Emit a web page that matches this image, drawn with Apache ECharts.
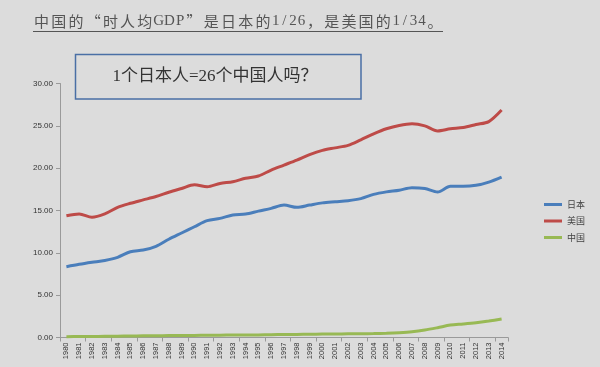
<!DOCTYPE html>
<html><head><meta charset="utf-8">
<script src="https://cdn.jsdelivr.net/npm/echarts@6/dist/echarts.min.js"></script>
<style>html,body{margin:0;padding:0;background:#dcdcdc;}#c{width:600px;height:367px;}</style>
</head><body><div id="c"></div>
<script>
const years = ['1980','1981','1982','1983','1984','1985','1986','1987','1988','1989','1990','1991','1992','1993','1994','1995','1996','1997','1998','1999','2000','2001','2002','2003','2004','2005','2006','2007','2008','2009','2010','2011','2012','2013','2014'];
const japan = [8.36,8.64,8.88,9.1,9.47,10.13,10.33,10.77,11.6,12.34,13.08,13.8,14.07,14.46,14.58,14.93,15.25,15.64,15.37,15.64,15.9,16.03,16.15,16.4,16.9,17.2,17.4,17.7,17.6,17.18,17.85,17.85,17.97,18.36,18.95];
const usa = [14.38,14.6,14.2,14.6,15.37,15.85,16.25,16.65,17.15,17.6,18.04,17.8,18.2,18.4,18.8,19.07,19.78,20.37,20.96,21.6,22.1,22.4,22.7,23.35,24.05,24.65,25.05,25.25,25.0,24.4,24.65,24.8,25.15,25.5,26.86];
const china = [0.1,0.11,0.12,0.14,0.16,0.18,0.2,0.21,0.23,0.24,0.25,0.26,0.28,0.29,0.3,0.31,0.33,0.35,0.36,0.38,0.4,0.42,0.43,0.44,0.46,0.5,0.57,0.68,0.88,1.16,1.47,1.6,1.75,1.95,2.18];
const seriesNames = ['日本','美国','中国'];
const yTicks = {min:0, max:30, step:5};
const titleText = '中国的“时人均GDP”是日本的1/26，是美国的1/34。';
const boxText = '1个日本人=26个中国人吗？';

const chart = echarts.init(document.getElementById('c'), null, {renderer:'canvas'});
const colors = ['#4a7ebb','#be4b48','#98b954'];
const serif = '"Liberation Serif","Noto Sans CJK SC",serif';

// title drawn character by character with a fixed (SimSun-like) pitch
const titleGraphics = [];
(function(){
  const pitch = 17.2;
  let x = 33;
  for (const ch of titleText) {
    const half = /[\x20-\x7e]/.test(ch);
    const wide = /[A-Z]/.test(ch);
    const w = wide ? 10.7 : (half ? pitch/2 : pitch);
    const isQuote = ch === '“' || ch === '”';
    let gx = x + w/2, align = 'center';
    if (ch === '“') { gx = x + w - 1; align = 'right'; }
    if (ch === '”') { gx = x + 1; align = 'left'; }
    titleGraphics.push({
      type:'text', x: gx, y: 21,
      style:{text:ch, font: '15px ' + (half ? serif : '"Noto Sans CJK SC"'), fill:'#555',
             textAlign: align, textVerticalAlign:'middle'}
    });
    x += w;
  }
})();

chart.setOption({
  backgroundColor:'#dcdcdc',
  animation:false,
  color:colors,
  grid:{left:60,right:92,top:83.5,bottom:29.5,containLabel:false},
  legend:{
    orient:'vertical', left:544, top:200, padding:0, itemWidth:18, itemHeight:3, itemGap:7.5,
    icon:'rect', textStyle:{fontSize:9,color:'#444',fontFamily:'"Noto Sans CJK SC"'},
    data:seriesNames
  },
  xAxis:{
    type:'category', data:years, boundaryGap:true,
    axisLine:{lineStyle:{color:'#9a9a9a',width:1}},
    axisTick:{show:true,interval:1,length:4,lineStyle:{color:'#9a9a9a'}},
    axisLabel:{interval:0,rotate:90,fontSize:7.5,color:'#333',margin:5,fontFamily:'"Liberation Sans",sans-serif'}
  },
  yAxis:{
    type:'value', min:yTicks.min, max:yTicks.max, interval:yTicks.step,
    splitLine:{show:false},
    axisLine:{show:true,lineStyle:{color:'#9a9a9a',width:1}},
    axisTick:{show:true,length:4,lineStyle:{color:'#9a9a9a'}},
    axisLabel:{fontSize:8,color:'#333',margin:7,formatter:v=>v.toFixed(2),fontFamily:'"Liberation Sans",sans-serif'}
  },
  graphic: titleGraphics.concat([
    {type:'line', shape:{x1:33,y1:31.5,x2:443,y2:31.5}, style:{stroke:'#555',lineWidth:1.2}},
    {type:'rect', shape:{x:75.5,y:54.5,width:285.5,height:44.5}, style:{fill:'#dcdcdc',stroke:'#4a6fa5',lineWidth:1.5}},
    {type:'text', x:215, y:77, style:{text:boxText, font:'17px '+serif, fill:'#333', textAlign:'center', textVerticalAlign:'middle'}}
  ]),
  series:[
    {name:seriesNames[0],type:'line',data:japan,smooth:0.3,symbol:'none',lineStyle:{width:3,color:colors[0]}},
    {name:seriesNames[1],type:'line',data:usa,smooth:0.3,symbol:'none',lineStyle:{width:3,color:colors[1]}},
    {name:seriesNames[2],type:'line',data:china,smooth:0.3,symbol:'none',lineStyle:{width:3,color:colors[2]}}
  ]
});
</script></body></html>
